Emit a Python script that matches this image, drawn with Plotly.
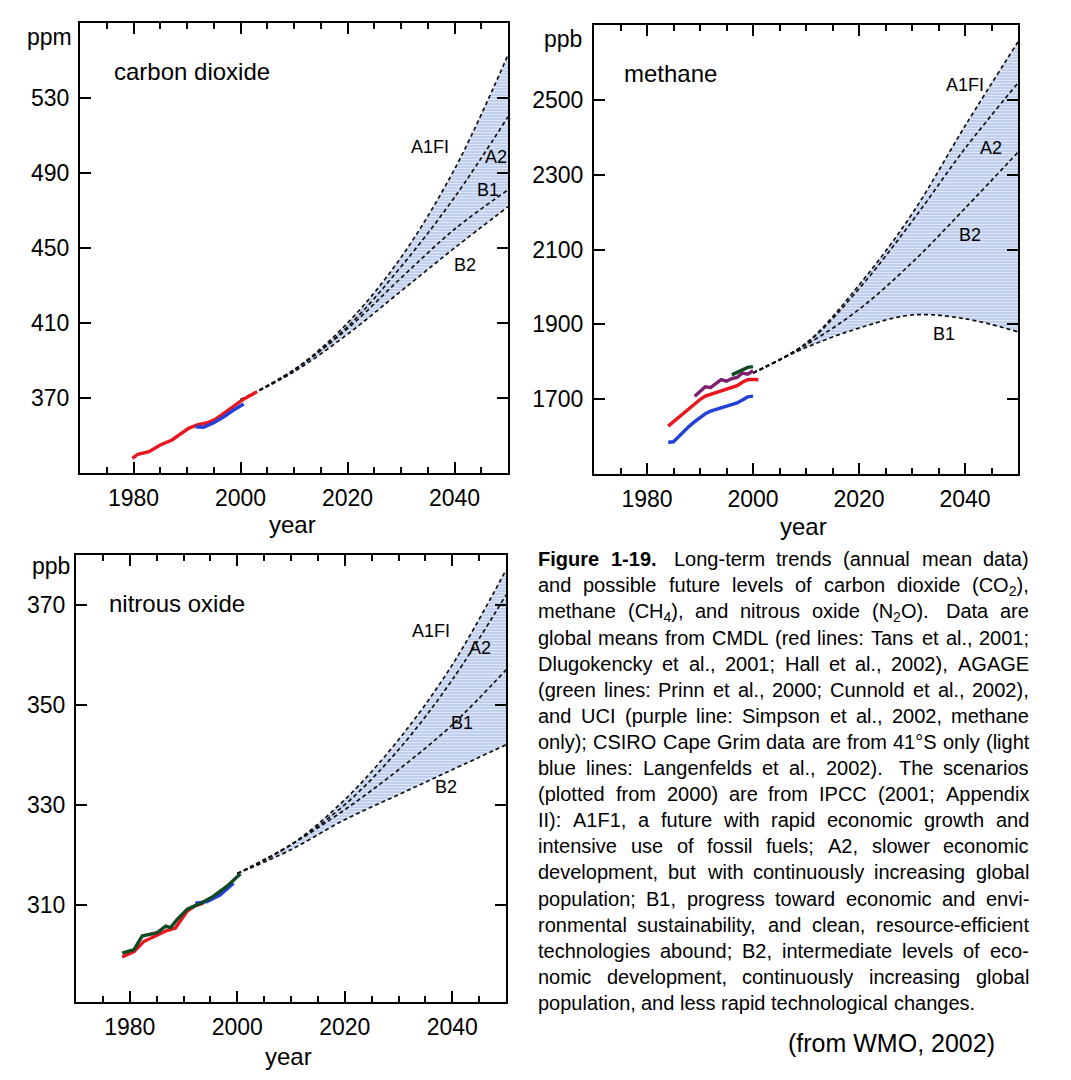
import re
import plotly.graph_objects as go

# The page body has an 8 px margin; the figure is sized to fit the 1071x1080 window.
OFF = 8
W, H = 1071 - OFF, 1080 - OFF
FONT = "Liberation Sans, Arial, Helvetica, sans-serif"

# ---------------- data ----------------
# Carbon dioxide (ppm)
co2_cmdl_years = [1979.8, 1980.8, 1982.9, 1985.0, 1987.2, 1988.8, 1990.3, 1991.9, 1993.8, 1995.3, 1996.9, 1998.7, 2000.3, 2003.1]
co2_cmdl_vals = [337.8, 340.0, 341.4, 344.9, 347.6, 350.8, 353.8, 355.6, 356.8, 358.6, 361.8, 365.4, 368.9, 373.4]
co2_csiro_years = [1991.6, 1993.1, 1995.0, 1996.9, 1998.7, 2000.6]
co2_csiro_vals = [354.7, 354.4, 356.8, 360.0, 363.6, 366.8]

scen_years = [2000, 2010, 2020, 2030, 2040, 2050]
co2_a1fi = [369, 385, 410, 445, 492, 553]
co2_a2 = [369, 385, 408, 440, 477, 520]
co2_b1 = [369, 385, 407, 434, 460, 481]
co2_b2 = [369, 384, 404, 427, 450, 472]

# Methane (ppb)
ch4_cmdl_years = [1984, 1985, 1986, 1987, 1988, 1989, 1990, 1991, 1992, 1993, 1994, 1995, 1996, 1997, 1998, 1999, 2000, 2001]
ch4_cmdl_vals = [1628, 1640, 1652, 1664, 1676, 1688, 1699, 1708, 1713, 1716, 1722, 1727, 1731, 1736, 1745, 1752, 1753, 1752]
ch4_csiro_years = [1984, 1985, 1986, 1987, 1988, 1989, 1990, 1991, 1992, 1993, 1994, 1995, 1996, 1997, 1998, 1999, 2000]
ch4_csiro_vals = [1585, 1586, 1600, 1615, 1628, 1640, 1651, 1661, 1668, 1672, 1677, 1682, 1686, 1690, 1698, 1706, 1708]
ch4_uci_years = [1989, 1990, 1991, 1992, 1993, 1994, 1995, 1996, 1997, 1998, 1999, 2000]
ch4_uci_vals = [1708, 1720, 1733, 1731, 1742, 1752, 1748, 1755, 1758, 1770, 1767, 1776]
ch4_agage_years = [1996, 1997, 1998, 1999, 2000]
ch4_agage_vals = [1765, 1772, 1780, 1785, 1787]

ch4_a1fi = [1770, 1850, 2005, 2195, 2430, 2655]
ch4_a2 = [1770, 1848, 1995, 2175, 2370, 2545]
ch4_b2 = [1770, 1845, 1940, 2065, 2210, 2360]
ch4_b1 = [1770, 1838, 1890, 1925, 1915, 1880]

# Nitrous oxide (ppb)
n2o_agage_years = [1978.6, 1980.8, 1982.3, 1983.3, 1985.1, 1986.7, 1987.6, 1988.8, 1990.7, 1992.2, 1993.1, 1995.6, 1998.1, 2000.6]
n2o_agage_vals = [300.3, 301.0, 303.7, 304.0, 304.4, 305.7, 305.4, 307.0, 309.1, 309.8, 310.2, 311.7, 313.7, 316.2]
n2o_cmdl_years = [1978.6, 1980.8, 1982.6, 1985.1, 1986.9, 1988.5, 1990.7, 1992.2, 1993.7]
n2o_cmdl_vals = [299.5, 300.6, 302.6, 303.9, 304.8, 305.3, 308.7, 309.8, 310.3]
n2o_csiro_years = [1992.2, 1994.4, 1996.8, 1999.3]
n2o_csiro_vals = [310.3, 310.6, 311.9, 314.3]

n2o_a1fi = [316.2, 322, 331, 343, 358, 377]
n2o_a2 = [316.2, 322, 330, 341, 355, 372]
n2o_b1 = [316.2, 322, 329, 337, 346, 357]
n2o_b2 = [316.2, 321, 327, 332, 337, 342]

co2_ticks = [370, 410, 450, 490, 530]
ch4_ticks = [1700, 1900, 2100, 2300, 2500]
n2o_ticks = [310, 330, 350, 370]
year_ticks = [1980, 2000, 2020, 2040]
scen_names = ["A1FI", "A2", "B1", "B2"]
ch4_names = ["A1FI", "A2", "B2", "B1"]

caption_lines = [
    "<b>Figure</b> <b>1-19.</b>  Long-term trends (annual mean data)",
    "and possible future levels of carbon dioxide (CO<sub>2</sub>),",
    "methane (CH<sub>4</sub>), and nitrous oxide (N<sub>2</sub>O).  Data are",
    "global means from CMDL (red lines: Tans et al., 2001;",
    "Dlugokencky et al., 2001; Hall et al., 2002), AGAGE",
    "(green lines: Prinn et al., 2000; Cunnold et al., 2002),",
    "and UCI (purple line: Simpson et al., 2002, methane",
    "only); CSIRO Cape Grim data are from 41°S only (light",
    "blue lines: Langenfelds et al., 2002).  The scenarios",
    "(plotted from 2000) are from IPCC (2001; Appendix",
    "II): A1F1, a future with rapid economic growth and",
    "intensive use of fossil fuels; A2, slower economic",
    "development, but with continuously increasing global",
    "population; B1, progress toward economic and envi-",
    "ronmental sustainability, and clean, resource-efficient",
    "technologies abound; B2, intermediate levels of eco-",
    "nomic development, continuously increasing global",
    "population, and less rapid technological changes.",
]
source_text = "(from WMO, 2002)"

# ---------------- style ----------------
RED = "#e8161e"
BLUE = "#2340d8"
PURPLE = "#7b1f6e"
GREEN = "#0e4a22"
FILL_BG = "#bfcfed"


def px(x):
    return (x - OFF) / W


def py(y):
    return 1 - (y - OFF) / H


fig = go.Figure()

panels = [
    ("", (80, 508), (23, 473), [330, 570], co2_ticks),
    ("2", (594, 1018), (25, 474), [1500, 2700], ch4_ticks),
    ("3", (76, 506), (555, 1002), [290.5, 380], n2o_ticks),
]


def add_fan(sfx, lower, upper, lines):
    xa, ya = "x" + sfx, "y" + sfx
    fig.add_trace(go.Scatter(x=scen_years, y=lower, mode="lines", line=dict(width=0, shape="spline"),
                             xaxis=xa, yaxis=ya, showlegend=False, hoverinfo="skip"))
    fig.add_trace(go.Scatter(x=scen_years, y=upper, mode="lines", line=dict(width=0, shape="spline"),
                             fill="tonexty", fillcolor=FILL_BG,
                             fillpattern=dict(shape="-", bgcolor=FILL_BG, fgcolor="white", size=3, solidity=0.35),
                             xaxis=xa, yaxis=ya, showlegend=False, hoverinfo="skip"))
    for vals in lines:
        fig.add_trace(go.Scatter(x=scen_years, y=vals, mode="lines",
                                 line=dict(color="#111111", width=1.7, dash="4px,3px", shape="spline"),
                                 xaxis=xa, yaxis=ya, showlegend=False))


def add_obs(sfx, xs, ys, color):
    fig.add_trace(go.Scatter(x=xs, y=ys, mode="lines", line=dict(color=color, width=3.4),
                             xaxis="x" + sfx, yaxis="y" + sfx, showlegend=False))


add_fan("", co2_b2, co2_a1fi, [co2_a1fi, co2_a2, co2_b1, co2_b2])
add_obs("", co2_cmdl_years, co2_cmdl_vals, RED)
add_obs("", co2_csiro_years, co2_csiro_vals, BLUE)

add_fan("2", ch4_b1, ch4_a1fi, [ch4_a1fi, ch4_a2, ch4_b2, ch4_b1])
add_obs("2", ch4_csiro_years, ch4_csiro_vals, BLUE)
add_obs("2", ch4_cmdl_years, ch4_cmdl_vals, RED)
add_obs("2", ch4_uci_years, ch4_uci_vals, PURPLE)
add_obs("2", ch4_agage_years, ch4_agage_vals, GREEN)

add_fan("3", n2o_b2, n2o_a1fi, [n2o_a1fi, n2o_a2, n2o_b1, n2o_b2])
add_obs("3", n2o_cmdl_years, n2o_cmdl_vals, RED)
add_obs("3", n2o_csiro_years, n2o_csiro_vals, BLUE)
add_obs("3", n2o_agage_years, n2o_agage_vals, GREEN)

layout = dict(
    width=W, height=H, margin=dict(l=0, r=0, t=0, b=0),
    paper_bgcolor="white", plot_bgcolor="white",
    font=dict(family=FONT, size=23, color="black"),
    showlegend=False,
)

for sfx, (x0, x1), (y0, y1), yr, yt in panels:
    layout["xaxis" + sfx] = dict(
        domain=[px(x0), px(x1)], range=[1970, 2050], anchor="y" + sfx,
        tickvals=year_ticks, ticks="inside", ticklen=11, tickwidth=2, tickcolor="black",
        minor=dict(dtick=5, tick0=1970, ticks="inside", ticklen=6, tickwidth=1.6, tickcolor="black"),
        showline=True, linecolor="black", linewidth=2.2, mirror="ticks",
        showgrid=False, zeroline=False, ticklabelstandoff=3,
        tickfont=dict(size=23, family=FONT, color="black"),
    )
    layout["yaxis" + sfx] = dict(
        domain=[py(y1), py(y0)], range=yr, anchor="x" + sfx,
        tickvals=yt, ticks="inside", ticklen=11, tickwidth=2, tickcolor="black",
        showline=True, linecolor="black", linewidth=2.2, mirror="ticks",
        showgrid=False, zeroline=False, ticklabelstandoff=4,
        tickfont=dict(size=23, family=FONT, color="black"),
    )

fig.update_layout(**layout)

ann = []


def text(x, y, s, size=23, xanchor="left", yanchor="middle", xref="paper", yref="paper"):
    ann.append(dict(x=x, y=y, text=s, showarrow=False, xref=xref, yref=yref,
                    xanchor=xanchor, yanchor=yanchor, borderpad=0,
                    font=dict(family=FONT, size=size, color="black")))


text(px(73), py(37), "ppm", size=23, xanchor="right")
text(px(583), py(39), "ppb", size=23, xanchor="right")
text(px(71), py(566), "ppb", size=23, xanchor="right")
text(px(113), py(72), "carbon dioxide", size=24)
text(px(623), py(74), "methane", size=24)
text(px(108), py(603), "nitrous oxide", size=24)
text(px(292), py(524), "year", size=24, xanchor="center")
text(px(803), py(527), "year", size=24, xanchor="center")
text(px(288), py(1056), "year", size=24, xanchor="center")

co2_lab = [(2035.4, 504), (2047.8, 498.5), (2046.3, 481), (2042.0, 441)]
ch4_lab = [(2040.0, 2540), (2044.9, 2372), (2040.9, 2140), (2036.0, 1873)]
n2o_lab = [(2036.1, 364.8), (2045.2, 361.4), (2041.9, 346.4), (2038.9, 333.6)]
for (lx, ly), nm in zip(co2_lab, scen_names):
    text(lx, ly, nm, size=18, xanchor="center", xref="x", yref="y")
for (lx, ly), nm in zip(ch4_lab, ch4_names):
    text(lx, ly, nm, size=18, xanchor="center", xref="x2", yref="y2")
for (lx, ly), nm in zip(n2o_lab, scen_names):
    text(lx, ly, nm, size=18, xanchor="center", xref="x3", yref="y3")

# ---- justified caption: each word placed so every line spans the column ----
REG = {' ': 278, '!': 278, '(': 333, ')': 333, ',': 278, '-': 333, '.': 278, '/': 278, ':': 278,
       ';': 278, '°': 400}
for c in "0123456789":
    REG[c] = 556
REG.update(dict(zip("ABCDEFGHIJKLMNOPQRSTUVWXYZ",
                    [667, 667, 722, 722, 667, 611, 778, 722, 278, 500, 667, 556, 833, 722, 778, 667,
                     778, 722, 667, 611, 722, 667, 944, 667, 667, 611])))
REG.update(dict(zip("abcdefghijklmnopqrstuvwxyz",
                    [556, 556, 500, 556, 556, 278, 556, 556, 222, 222, 500, 222, 833, 556, 556, 556,
                     556, 333, 500, 278, 556, 500, 722, 500, 500, 500])))
BOLD = {'F': 611, 'i': 278, 'g': 611, 'u': 611, 'r': 389, 'e': 556, '-': 333, '.': 278}


def word_width(w, size):
    tot = 0.0
    for m in re.finditer(r"<b>(.*?)</b>|<sub>(.*?)</sub>|([^<]+)", w):
        if m.group(1) is not None:
            tot += sum(BOLD.get(c, REG.get(c, 556)) for c in m.group(1))
        elif m.group(2) is not None:
            tot += 0.7 * sum(REG.get(c, 556) for c in m.group(2))
        else:
            tot += sum(REG.get(c, 556) for c in m.group(3))
    return tot * size / 1000.0


CAP_SIZE = 20
CAP_LEFT, CAP_RIGHT = 537, 1028
for i, line in enumerate(caption_lines):
    yc = 559 + i * 26.1
    toks = line.split(" ")
    words, gaps = [], []
    pend = 0
    for t in toks:
        if t == "":
            pend += 1
            continue
        if words:
            gaps.append((1 + pend) * 278 * CAP_SIZE / 1000.0)
        words.append(t)
        pend = 0
    widths = [word_width(w, CAP_SIZE) for w in words]
    natural = sum(widths) + sum(gaps)
    last = i == len(caption_lines) - 1
    extra = 0 if last or len(gaps) == 0 else (CAP_RIGHT - CAP_LEFT - natural) / len(gaps)
    xcur = CAP_LEFT
    for j, w in enumerate(words):
        text(px(xcur), py(yc - 11.8), w, size=CAP_SIZE, yanchor="top")
        xcur += widths[j]
        if j < len(gaps):
            xcur += gaps[j] + extra

text(px(996), py(1043), source_text, size=25, xanchor="right")

fig.update_layout(annotations=ann)
fig.write_html("out.html")
